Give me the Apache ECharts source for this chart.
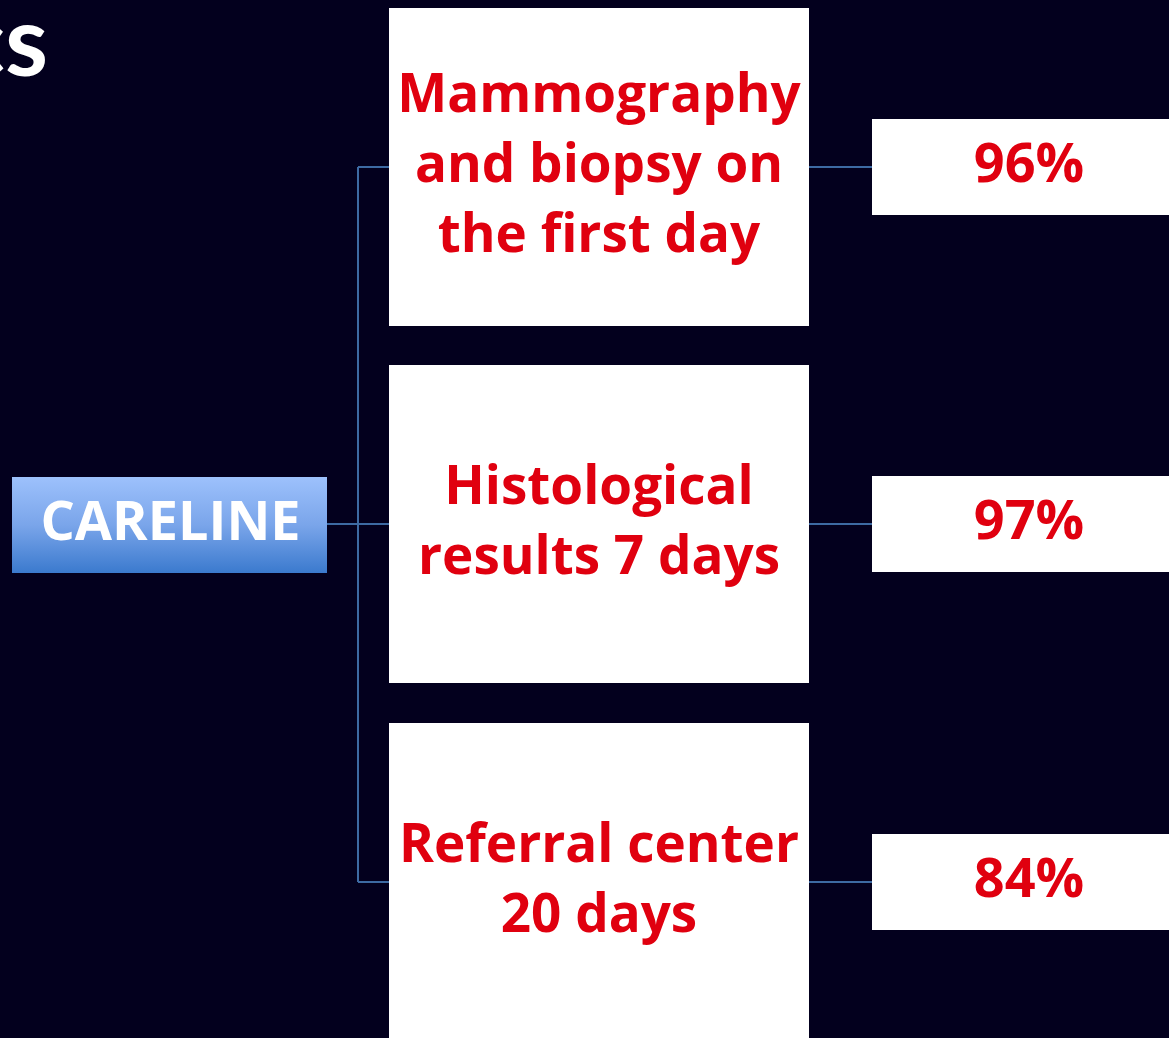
<!DOCTYPE html>
<html>
<head>
<meta charset="utf-8">
<script src="https://cdn.jsdelivr.net/npm/echarts@6/dist/echarts.min.js"></script>
<style>
  html, body { margin: 0; padding: 0; background: #03001e; }
  #chart { width: 1169px; height: 1038px; }
</style>
</head>
<body>
<div id="chart"></div>
<script>
// diagram content
const headingTail = 'cs';
const rootLabel = 'CARELINE';
const steps = ['Mammography\nand biopsy on\nthe first day', 'Histological\nresults 7 days', 'Referral center\n20 days'];
const rates = ['96%', '97%', '84%'];

// layout (in axis units = pixels of the slide)
const rowY = [167, 524, 882];
const rootCy = 524;
const forkX = 358;

const RED = '#e0000f';
const LINE = '#3d6aa3';
const FONT = '"Open Sans", Lato, sans-serif';

let chart = echarts.init(document.getElementById('chart'));

function rectAt(api, x0, y0, x1, y1) {
    const p0 = api.coord([x0, y0]);
    const p1 = api.coord([x1, y1]);
    return { x: p0[0], y: p0[1], width: p1[0] - p0[0], height: p1[1] - p0[1] };
}

const option = {
    backgroundColor: '#03001e',
    animation: false,
    grid: { left: 0, right: 0, top: 0, bottom: 0 },
    xAxis: { type: 'value', min: 0, max: 1169, show: false },
    yAxis: { type: 'value', min: 0, max: 1038, inverse: true, show: false },
    series: [
        // connectors
        {
            type: 'custom',
            data: steps.map((s, i) => [i]),
            z: 1,
            renderItem: function (params, api) {
                const i = api.value(0);
                const cy = rowY[i];
                const children = [
                    { type: 'polyline', shape: { points: [api.coord([forkX, cy]), api.coord([389, cy])] }, style: { stroke: LINE, lineWidth: 2, fill: null } },
                    { type: 'polyline', shape: { points: [api.coord([809, cy]), api.coord([872, cy])] }, style: { stroke: LINE, lineWidth: 2, fill: null } }
                ];
                if (i === 0) {
                    children.push({ type: 'polyline', shape: { points: [api.coord([forkX, rowY[0]]), api.coord([forkX, rowY[rowY.length - 1]])] }, style: { stroke: LINE, lineWidth: 2, fill: null } });
                    children.push({ type: 'polyline', shape: { points: [api.coord([327, rootCy]), api.coord([forkX, rootCy])] }, style: { stroke: LINE, lineWidth: 2, fill: null } });
                }
                return { type: 'group', children: children };
            }
        },
        // step boxes
        {
            type: 'custom',
            data: steps.map((s, i) => [i]),
            z: 2,
            renderItem: function (params, api) {
                const i = api.value(0);
                const cy = rowY[i];
                const r = rectAt(api, 389, cy - 159, 809, cy + 159);
                return {
                    type: 'group',
                    children: [
                        { type: 'rect', shape: r, style: { fill: '#ffffff' } },
                        {
                            type: 'text',
                            style: {
                                text: steps[i], x: r.x + r.width / 2, y: r.y + r.height / 2,
                                align: 'center', verticalAlign: 'middle',
                                fill: RED, font: 'bold 53px ' + FONT, lineHeight: 70
                            }
                        }
                    ]
                };
            }
        },
        // rate boxes
        {
            type: 'custom',
            data: rates.map((s, i) => [i]),
            z: 2,
            renderItem: function (params, api) {
                const i = api.value(0);
                const cy = rowY[i];
                const r = rectAt(api, 872, cy - 48, 1175, cy + 48);
                const c = api.coord([1029, cy]);
                return {
                    type: 'group',
                    children: [
                        { type: 'rect', shape: r, style: { fill: '#ffffff' } },
                        {
                            type: 'text',
                            style: {
                                text: rates[i], x: c[0], y: c[1],
                                align: 'center', verticalAlign: 'middle',
                                fill: RED, font: 'bold 54px ' + FONT
                            }
                        }
                    ]
                };
            }
        },
        // root box and heading fragment
        {
            type: 'custom',
            data: [[0]],
            z: 3,
            renderItem: function (params, api) {
                const r = rectAt(api, 12, rootCy - 47, 327, rootCy + 49);
                const h = api.coord([48, 44]);
                return {
                    type: 'group',
                    children: [
                        {
                            type: 'rect', shape: r,
                            style: {
                                fill: new echarts.graphic.LinearGradient(0, 0, 0, 1, [
                                    { offset: 0, color: '#9dc1fc' },
                                    { offset: 0.5, color: '#7aa5ea' },
                                    { offset: 1, color: '#3b7ace' }
                                ])
                            }
                        },
                        {
                            type: 'text',
                            style: {
                                text: rootLabel, x: r.x + r.width / 2 + 1, y: r.y + r.height / 2,
                                align: 'center', verticalAlign: 'middle',
                                fill: '#ffffff', font: 'bold 54px ' + FONT
                            }
                        },
                        {
                            type: 'text',
                            style: {
                                text: headingTail, x: h[0], y: h[1],
                                align: 'right', verticalAlign: 'middle',
                                fill: '#ffffff', font: 'bold 98px Lato, sans-serif'
                            }
                        }
                    ]
                };
            }
        }
    ]
};

chart.setOption(option);
window.addEventListener('resize', function () {
    chart.resize();
});
</script>
</body>
</html>
